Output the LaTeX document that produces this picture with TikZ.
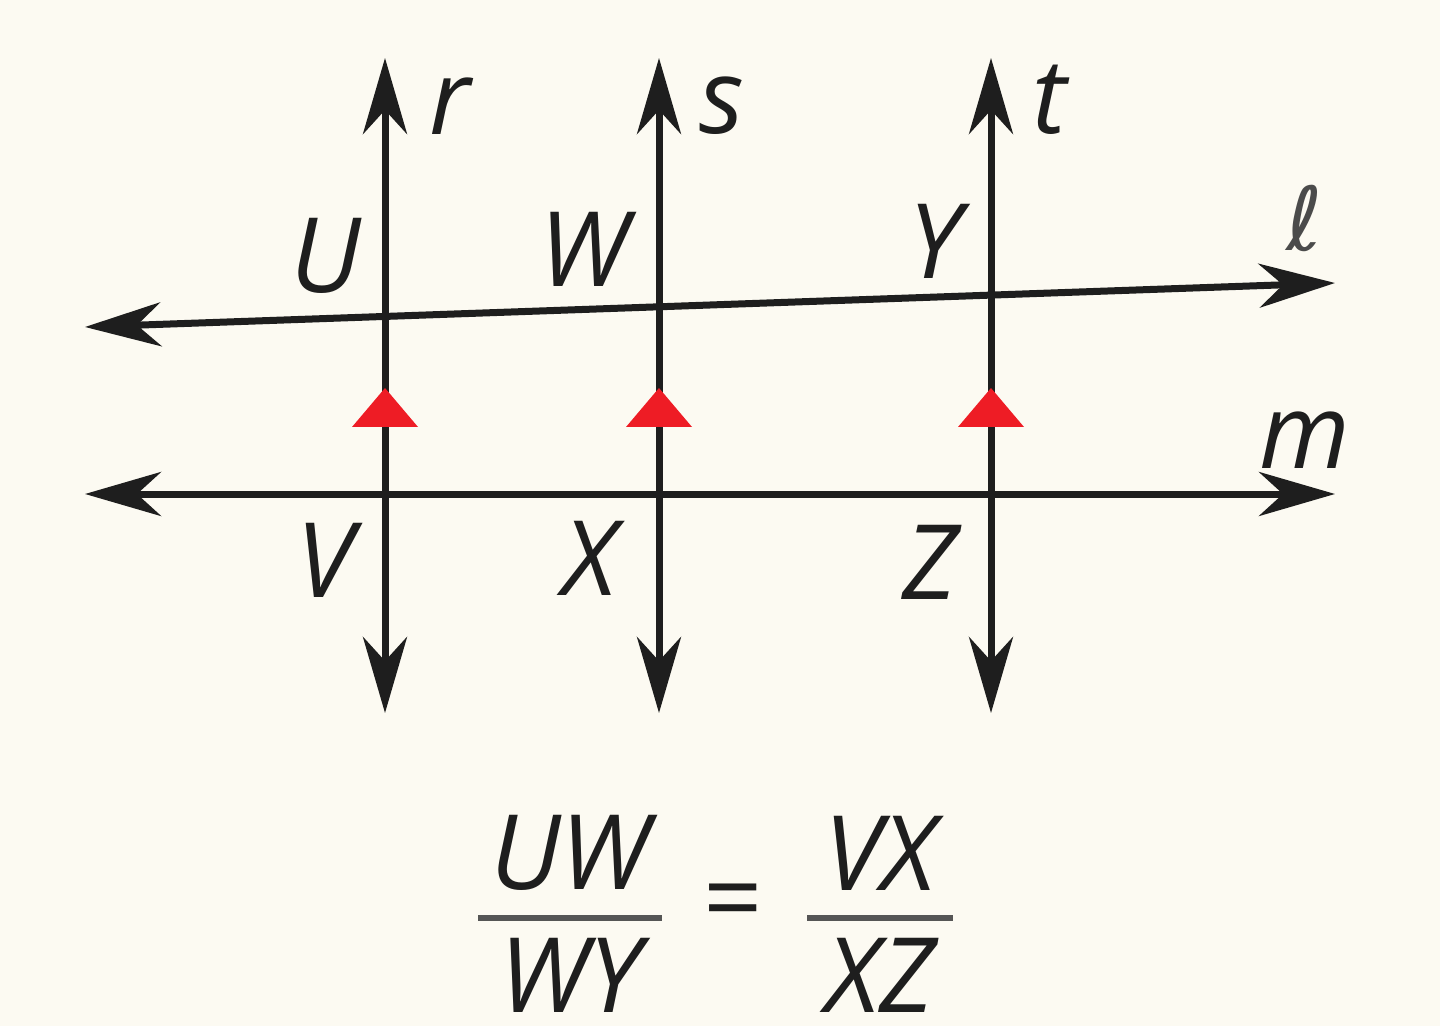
\documentclass[tikz,border=0pt]{standalone}
\usepackage{fontspec}
\setmainfont{Open Sans}
\newfontfamily\djv{DejaVu Sans}
\usetikzlibrary{arrows.meta}
\definecolor{bg}{HTML}{FCFAF2}
\definecolor{ink}{HTML}{1E1E1E}
\definecolor{barc}{HTML}{555555}
\definecolor{markc}{HTML}{EE1C25}
\begin{document}
\begin{tikzpicture}[x=0.5pt,y=-0.5pt,
  tip/.tip={Stealth[length=38pt,width=22pt,inset=12pt]},
  ln/.style={line width=3.5pt, draw=ink, tip-tip},
  lab/.style={font=\fontsize{52}{60}\selectfont\itshape, text=ink, inner sep=0pt},
  fr/.style={font=\fontsize{52}{60}\selectfont\itshape, text=ink, inner sep=0pt},
  fbar/.style={line width=3pt, draw=barc},
  redmark/.style={fill=markc, draw=none}]
\fill[bg] (0,0) rectangle (1440,1026);
\useasboundingbox (0,0) rectangle (1440,1026);
% line ends
\coordinate (rT) at (385,58);  \coordinate (rB) at (385,713);
\coordinate (sT) at (659,58);  \coordinate (sB) at (659,713);
\coordinate (tT) at (991,58);  \coordinate (tB) at (991,713);
\coordinate (lL) at (85,327);  \coordinate (lR) at (1335,283);
\coordinate (mL) at (85,494);  \coordinate (mR) at (1335,494);
% lines
\draw[ln] (lL) -- (lR);
\draw[ln] (mL) -- (mR);
\draw[ln] (rB) -- (rT);
\draw[ln] (sB) -- (sT);
\draw[ln] (tB) -- (tT);
% red parallel marks
\foreach \x in {385,659,991}{
  \fill[redmark] (\x-33,427) -- (\x,388) -- (\x+33,427) -- cycle;
}
% labels
\node[lab] (r) at (450,106) {r};
\node[lab] (s) at (722,106) {s};
\node[lab] (t) at (1050,100) {t};
\node[lab] (U) at (326,256) {U};
\node[lab] (W) at (584,249) {W};
\node[lab] (Y) at (935,241) {Y};
\node[lab, font=\fontsize{44}{50}\selectfont\djv\itshape, text=ink!80] (ell) at (1305,218) {ℓ};
\node[lab] (m) at (1305,440) {m};
\node[lab] (V) at (325,560) {V};
\node[lab] (X) at (590,558) {X};
\node[lab] (Z) at (930,562) {Z};
% ratio
\node[fr] (UW) at (570,853) {UW};
\node[fr] (WY) at (570,975) {WY};
\node[fr] (VX) at (880,853) {VX};
\node[fr] (XZ) at (880,975) {XZ};
\coordinate (b1L) at (478,918); \coordinate (b1R) at (662,918);
\coordinate (b2L) at (807,918); \coordinate (b2R) at (953,918);
\draw[fbar] (b1L) -- (b1R);
\draw[fbar] (b2L) -- (b2R);
\node[fr, font=\fontsize{52}{60}\selectfont, text=ink] (eq) at (733,909) {=};
\end{tikzpicture}
\end{document}
